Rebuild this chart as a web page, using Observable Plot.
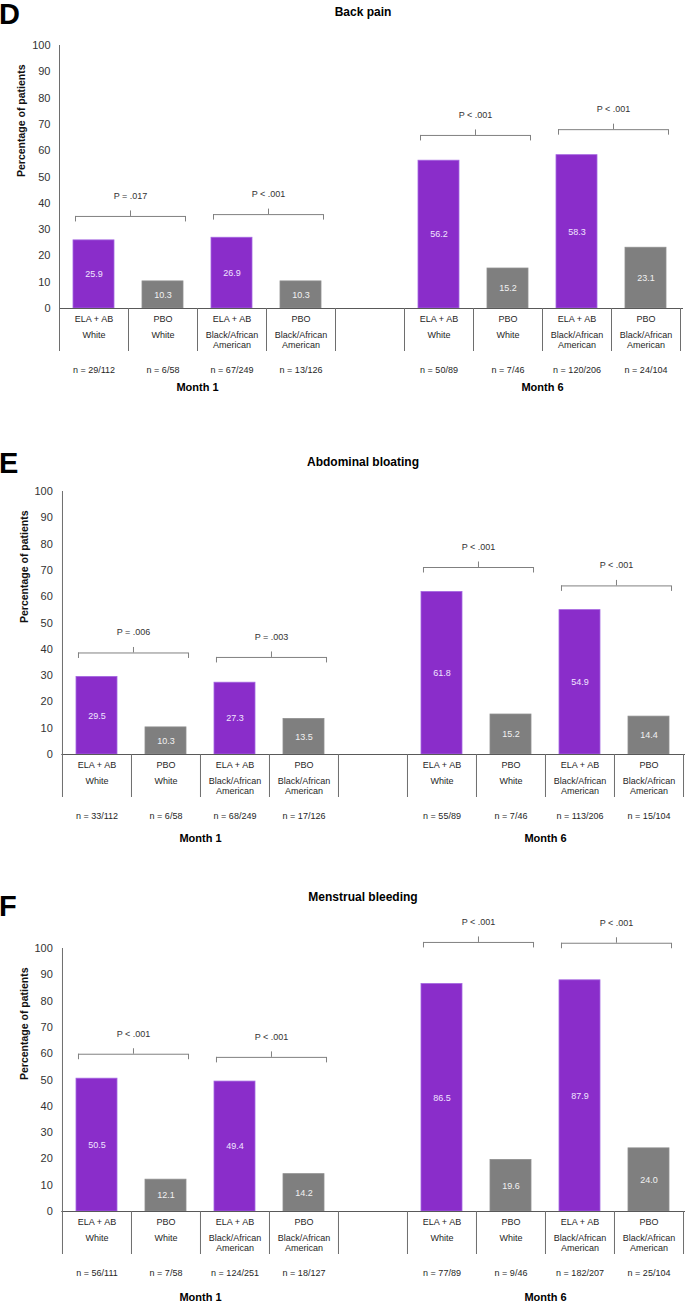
<!DOCTYPE html>
<html><head><meta charset="utf-8">
<script src="https://cdn.jsdelivr.net/npm/d3@7"></script>
<script src="https://cdn.jsdelivr.net/npm/@observablehq/plot@0.6"></script>
<style>
html,body{margin:0;padding:0;overflow:hidden;background:#fff;}
#root{position:relative;width:685px;height:1302px;font-family:"Liberation Sans",Arial,sans-serif;color:#000;}
.letter{position:absolute;left:-1px;font-weight:bold;font-size:29px;line-height:1;transform:translateY(-50%);}
.title{position:absolute;font-weight:bold;font-size:12px;line-height:1;transform:translate(-50%,-50%);white-space:nowrap;}
.panel{position:absolute;left:0;}
</style></head><body><div id="root"></div>
<script>
// ---- shared categories ----
const categories = ["M1 ELA W","M1 PBO W","M1 ELA B","M1 PBO B","gap","M6 ELA W","M6 PBO W","M6 ELA B","M6 PBO B"];
const treatmentLabels = ["ELA + AB","PBO","ELA + AB","PBO","","ELA + AB","PBO","ELA + AB","PBO"];
const raceLabels = ["White","White","Black/African\nAmerican","Black/African\nAmerican","","White","White","Black/African\nAmerican","Black/African\nAmerican"];
const monthLabels = ["Month 1","Month 6"];
const yTicks = [0,10,20,30,40,50,60,70,80,90,100];

// ---- D: Back pain ----
const backPainValues = [25.9,10.3,26.9,10.3,56.2,15.2,58.3,23.1];
const backPainN = ["n = 29/112","n = 6/58","n = 67/249","n = 13/126","n = 50/89","n = 7/46","n = 120/206","n = 24/104"];
const backPainP = ["P = .017","P < .001","P < .001","P < .001"];
const backPainBracketY = [35,35.7,65.8,68];

// ---- E: Abdominal bloating ----
const bloatingValues = [29.5,10.3,27.3,13.5,61.8,15.2,54.9,14.4];
const bloatingN = ["n = 33/112","n = 6/58","n = 68/249","n = 17/126","n = 55/89","n = 7/46","n = 113/206","n = 15/104"];
const bloatingP = ["P = .006","P = .003","P < .001","P < .001"];
const bloatingBracketY = [38.6,36.9,71.1,64.1];

// ---- F: Menstrual bleeding ----
const bleedingValues = [50.5,12.1,49.4,14.2,86.5,19.6,87.9,24.0];
const bleedingN = ["n = 56/111","n = 7/58","n = 124/251","n = 18/127","n = 77/89","n = 9/46","n = 182/207","n = 25/104"];
const bleedingP = ["P < .001","P < .001","P < .001","P < .001"];
const bleedingBracketY = [59.8,58.6,102.3,102];

const PURPLE = "#8a2dca", GRAY = "#7f7f7f";
const W = 685, H = 400, MT = 45, PH = 263;
const pxPerUnit = PH / 100;
const barCats = categories.filter(c => c !== "gap");

const root = document.getElementById("root");

function addDiv(cls, text, style) {
  const d = document.createElement("div");
  d.className = cls; d.textContent = text;
  Object.assign(d.style, style);
  root.appendChild(d);
}

function drawPanel({letter, title, values, ns, ps, bracketY, top, ml, mr, monthDy, titleY, letterY}) {
  const bw = (W - ml - mr) / categories.length;
  const bars = barCats.map((c, i) => ({cat: c, value: values[i], drug: i % 2 === 0 ? "ELA" : "PBO", n: ns[i]}));
  const cells = categories.map((c, i) => ({cat: c, treat: treatmentLabels[i], race: raceLabels[i], top: i === 0 ? 100 : 0}));
  const brackets = ps.map((p, i) => ({a: barCats[2 * i], b: barCats[2 * i + 1], y: bracketY[i], p}));
  const months = monthLabels.map((m, i) => ({label: m, at: barCats[4 * i + 2]}));
  const tableBottom = -43 / pxPerUnit;
  const hook = 5.5 / pxPerUnit;
  const lineColor = "#6e6e6e";
  const bracketColor = "#808080";
  const txt = "#262626";

  const svg = Plot.plot({
    width: W, height: H,
    marginTop: MT, marginBottom: H - MT - PH, marginLeft: ml, marginRight: mr,
    style: {fontFamily: "'Liberation Sans', Arial, sans-serif", background: "transparent"},
    x: {type: "band", domain: categories, padding: 0, axis: null},
    y: {domain: [0, 100], axis: null},
    marks: [
      Plot.axisY(yTicks, {tickSize: 0, tickPadding: 9, fontSize: 11, fill: "#333", label: null}),
      Plot.text(["Percentage of patients"], {text: d => d, frameAnchor: "left", rotate: -90, dx: -37.5, fontSize: 10.5, fontWeight: "bold", fill: "#111"}),
      // bars
      Plot.barY(bars.filter(d => d.drug === "ELA"), {x: "cat", y: "value", fill: PURPLE, stroke: "#a466e0", strokeWidth: 0.8, insetLeft: 14, insetRight: 14}),
      Plot.barY(bars.filter(d => d.drug === "PBO"), {x: "cat", y: "value", fill: GRAY, stroke: "#8e8e8e", strokeWidth: 0.8, insetLeft: 14, insetRight: 14}),
      Plot.text(bars, {x: "cat", y: d => d.value / 2, text: d => d.value.toFixed(1), fill: d => d.drug === "ELA" ? "#f1e6ff" : "#f2f2f2", fontSize: 9}),
      // table lines
      Plot.ruleY([0], {stroke: "#595959", strokeWidth: 1.2, insetRight: -3}),
      Plot.ruleX(cells, {x: "cat", y1: tableBottom, y2: "top", dx: -bw / 2, stroke: lineColor, strokeWidth: 1}),
      Plot.ruleX(cells.slice(-1), {x: "cat", y1: tableBottom, y2: 0, dx: bw / 2, stroke: lineColor, strokeWidth: 1}),
      // table labels
      Plot.text(cells, {x: "cat", y: d => 0, text: "treat", dy: 10.8, fontSize: 9, fill: txt}),
      Plot.text(cells, {x: "cat", y: d => 0, text: "race", dy: 22.3, lineAnchor: "top", lineHeight: 1.12, fontSize: 9, fill: txt}),
      Plot.text(bars, {x: "cat", y: d => 0, text: "n", dy: 61.5, fontSize: 9, fill: txt}),
      Plot.text(months, {x: "at", y: d => 0, text: "label", dx: -bw / 2, dy: monthDy, fontSize: 11, fontWeight: "bold", fill: "#000"}),
      // brackets
      Plot.ruleY(brackets, {y: "y", x1: "a", x2: "b", insetLeft: 16, insetRight: 12, stroke: bracketColor}),
      Plot.ruleX(brackets, {x: "a", y1: "y", y2: d => d.y - hook, dx: -bw / 2 + 16, stroke: bracketColor}),
      Plot.ruleX(brackets, {x: "b", y1: "y", y2: d => d.y - hook, dx: bw / 2 - 12, stroke: bracketColor}),
      Plot.ruleX(brackets, {x: "b", y1: "y", y2: d => d.y + hook, dx: -bw / 2 + 2, stroke: bracketColor}),
      Plot.text(brackets, {x: "b", y: "y", text: "p", dx: -bw / 2 + 2, dy: -20.5, fontSize: 9, fill: "#333", ariaLabel: "pvalue"})
    ]
  });

  // italicize the "P" of each P value label
  d3.select(svg).selectAll('g[aria-label="pvalue"] text').each(function () {
    const t = this.textContent;
    this.textContent = "";
    d3.select(this).append("tspan").attr("font-style", "italic").text(t.slice(0, 1));
    d3.select(this).append("tspan").text(t.slice(1));
  });

  const wrap = document.createElement("div");
  wrap.className = "panel";
  wrap.style.top = top + "px";
  wrap.appendChild(svg);
  root.appendChild(wrap);
  addDiv("letter", letter, {top: letterY + "px"});
  addDiv("title", title, {left: "363px", top: titleY + "px"});
}

drawPanel({letter: "D", title: "Back pain", values: backPainValues, ns: backPainN, ps: backPainP, bracketY: backPainBracketY,
  top: 0, ml: 59, mr: 5, monthDy: 79, titleY: 12, letterY: 14});
drawPanel({letter: "E", title: "Abdominal bloating", values: bloatingValues, ns: bloatingN, ps: bloatingP, bracketY: bloatingBracketY,
  top: 445.7, ml: 61.3, mr: 2.2, monthDy: 84, titleY: 461.5, letterY: 463});
drawPanel({letter: "F", title: "Menstrual bleeding", values: bleedingValues, ns: bleedingN, ps: bleedingP, bracketY: bleedingBracketY,
  top: 902.7, ml: 61.3, mr: 2.2, monthDy: 86, titleY: 897, letterY: 906});
</script></body></html>
